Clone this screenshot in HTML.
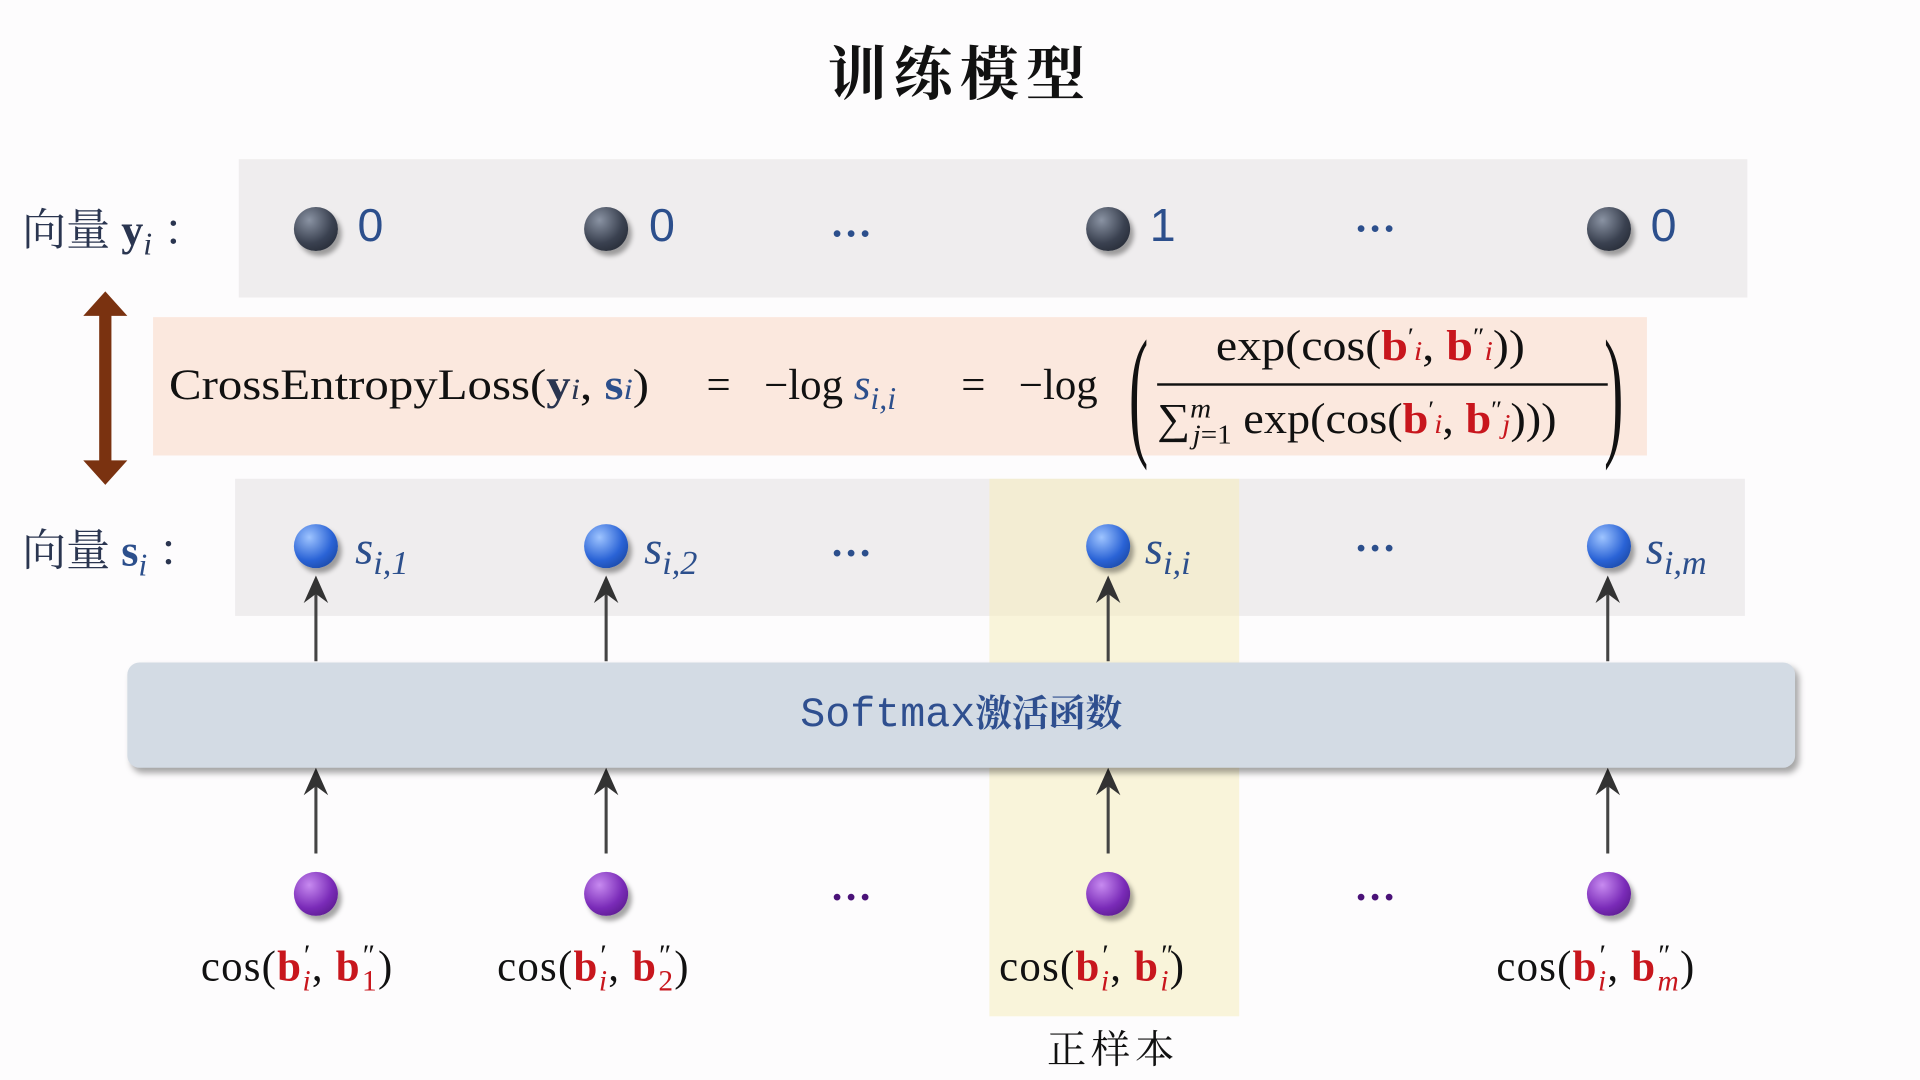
<!DOCTYPE html>
<html><head><meta charset="utf-8"><style>
html,body{margin:0;padding:0;background:#fdfcfd;overflow:hidden;width:1920px;height:1080px}
#w{position:absolute;left:0;top:0;width:1568px;height:882px;transform:scale(1.22449);transform-origin:0 0;font-family:"Liberation Serif","Noto Serif CJK SC",serif;color:#111}
.a{position:absolute;white-space:nowrap}
.band{position:absolute;background:#efedee}
.dot{position:absolute;width:36px;height:36px;border-radius:50%;box-shadow:3px 4px 4px rgba(0,0,0,.35)}
.dk{background:radial-gradient(circle at 35% 30%,#8a93a3,#3a4150 55%,#1c2029)}
.bl{background:radial-gradient(circle at 35% 30%,#9ec4ff,#2a63d6 55%,#123a8c)}
.pu{background:radial-gradient(circle at 35% 30%,#c78af0,#7a2bb8 55%,#4a1278)}
.num{font-family:"Liberation Sans",sans-serif;font-size:38px;color:#2c4f8c}
.s{font-style:italic;font-size:38px;color:#2c4f8c}
.s sub{font-size:28px}
.dots{font-size:34px;color:#2c4f8c;letter-spacing:4px;font-weight:bold}
.r{color:#c8161d;font-weight:bold}
.cos{font-size:35px;letter-spacing:1px}
.cos sub,.cos sup{font-size:24px;font-style:italic}
.f{font-size:35px;transform-origin:0 0}
</style></head><body><div id="w">
<div class="a" style="left:0;width:1568px;top:22px;text-align:center;font-size:48px;font-weight:bold;font-family:'Noto Serif CJK SC',serif;letter-spacing:6px">训练模型</div>

<div class="band" style="left:195px;top:130px;width:1232px;height:113px"></div>
<div class="a" style="left:18px;top:160px;font-size:36px;color:#2a3550">向量 <b>y</b><i style="font-size:26px;vertical-align:-8px">i</i> ：</div>
<div class="dot dk" style="left:240px;top:169px"></div><div class="a num" style="left:292px;top:164px">0</div>
<div class="dot dk" style="left:477px;top:169px"></div><div class="a num" style="left:530px;top:164px">0</div>
<div class="a dots" style="left:678px;top:164px">…</div>
<div class="dot dk" style="left:887px;top:169px"></div><div class="a num" style="left:939px;top:164px">1</div>
<div class="a dots" style="left:1106px;top:160px">…</div>
<div class="dot dk" style="left:1296px;top:169px"></div><div class="a num" style="left:1348px;top:164px">0</div>

<div class="band" style="left:125px;top:259px;width:1220px;height:113px;background:#fbe8de"></div>
<svg class="a" style="left:66px;top:236px" width="40" height="162"><polygon points="20,2 38,22 25,22 25,140 38,140 20,160 2,140 15,140 15,22 2,22" fill="#7a3210"/></svg>
<div class="a f" style="left:138px;top:295px;transform:scaleX(1.14)">CrossEntropyLoss(<b style="color:#2a3550">y</b><i style="font-size:24px;color:#2a3550">i</i>, <b style="color:#2c4f8c">s</b><i style="font-size:24px;color:#2c4f8c">i</i>)</div>
<div class="a f" style="left:577px;top:295px">=</div>
<div class="a f" style="left:624px;top:295px">−log <i style="color:#2c4f8c">s<sub style="font-size:26px">i,i</sub></i></div>
<div class="a f" style="left:785px;top:295px">=</div>
<div class="a f" style="left:832px;top:295px">−log</div>
<div class="a" style="left:922px;top:252px;font-size:118px;font-weight:100;transform:scaleX(.4);transform-origin:0 0">(</div>
<div class="a" style="left:1310px;top:252px;font-size:118px;font-weight:100;transform:scaleX(.4);transform-origin:0 0">)</div>
<div class="a f" style="left:993px;top:263px;transform:scaleX(1.12)">exp(cos(<span class="r">b</span><sup style="font-size:20px">′</sup><i style="font-size:22px;color:#c8161d">i</i>, <span class="r">b</span><sup style="font-size:20px">″</sup><i style="font-size:22px;color:#c8161d">i</i>))</div>
<div class="a" style="left:945px;top:313px;width:368px;height:2px;background:#111"></div>
<div class="a f" style="left:945px;top:321px;transform:scaleX(1.08)">∑<sup style="font-size:22px;font-style:italic">m</sup><sub style="font-size:22px;margin-left:-14px"><i>j</i>=1</sub> exp(cos(<span class="r">b</span><sup style="font-size:20px">′</sup><i style="font-size:22px;color:#c8161d">i</i>, <span class="r">b</span><sup style="font-size:20px">″</sup><i style="font-size:22px;color:#c8161d">j</i>)))</div>

<div class="band" style="left:192px;top:391px;width:1233px;height:112px"></div>
<div class="a" style="left:808px;top:391px;width:204px;height:439px;background:rgba(246,236,190,.55)"></div>
<div class="a" style="left:18px;top:422px;font-size:36px;color:#2a3550">向量 <b style="color:#2c4f8c">s</b><i style="font-size:26px;vertical-align:-8px;color:#2c4f8c">i</i> ：</div>
<div class="dot bl" style="left:240px;top:428px"></div><div class="a s" style="left:290px;top:426px">s<sub>i,1</sub></div>
<div class="dot bl" style="left:477px;top:428px"></div><div class="a s" style="left:526px;top:426px">s<sub>i,2</sub></div>
<div class="a dots" style="left:678px;top:425px">…</div>
<div class="dot bl" style="left:887px;top:428px"></div><div class="a s" style="left:935px;top:426px">s<sub>i,i</sub></div>
<div class="a dots" style="left:1106px;top:421px">…</div>
<div class="dot bl" style="left:1296px;top:428px"></div><div class="a s" style="left:1344px;top:426px">s<sub>i,m</sub></div>

<svg class="a" style="left:0;top:0" width="1568" height="882">
<defs><marker id="m" markerWidth="10" markerHeight="10" refX="5" refY="5" orient="auto"><path d="M0,1 L9,5 L0,9 L3,5 Z" fill="#333"/></marker></defs>
<g stroke="#444" stroke-width="2.5" marker-end="url(#m)">
<line x1="258" y1="540" x2="258" y2="480"/><line x1="495" y1="540" x2="495" y2="480"/><line x1="905" y1="540" x2="905" y2="480"/><line x1="1313" y1="540" x2="1313" y2="480"/>
<line x1="258" y1="697" x2="258" y2="637"/><line x1="495" y1="697" x2="495" y2="637"/><line x1="905" y1="697" x2="905" y2="637"/><line x1="1313" y1="697" x2="1313" y2="637"/>
</g></svg>

<div class="a" style="left:104px;top:541px;width:1362px;height:86px;border-radius:10px;background:#d3dbe4;box-shadow:3px 4px 5px rgba(0,0,0,.35)"></div>
<div class="a" style="left:104px;top:558px;width:1362px;text-align:center;font-size:34px;color:#2f4f8f;font-family:'Liberation Mono','Noto Serif CJK SC',monospace">Softmax<span style="font-family:'Noto Serif CJK SC',serif;font-size:30px;font-weight:bold">激活函数</span></div>

<div class="dot pu" style="left:240px;top:712px"></div>
<div class="dot pu" style="left:477px;top:712px"></div>
<div class="a dots" style="left:678px;top:706px;color:#4a1278">…</div>
<div class="dot pu" style="left:887px;top:712px"></div>
<div class="a dots" style="left:1106px;top:706px;color:#4a1278">…</div>
<div class="dot pu" style="left:1296px;top:712px"></div>

<div class="a cos" style="left:164px;top:768px">cos(<span class="r">b</span><sup>′</sup><sub style="color:#c8161d;margin-left:-6px">i</sub>, <span class="r">b</span><sup>″</sup><sub style="color:#c8161d;font-style:normal;margin-left:-10px">1</sub>)</div>
<div class="a cos" style="left:406px;top:768px">cos(<span class="r">b</span><sup>′</sup><sub style="color:#c8161d;margin-left:-6px">i</sub>, <span class="r">b</span><sup>″</sup><sub style="color:#c8161d;font-style:normal;margin-left:-10px">2</sub>)</div>
<div class="a cos" style="left:816px;top:768px">cos(<span class="r">b</span><sup>′</sup><sub style="color:#c8161d;margin-left:-6px">i</sub>, <span class="r">b</span><sup>″</sup><sub style="color:#c8161d;margin-left:-10px">i</sub>)</div>
<div class="a cos" style="left:1222px;top:768px">cos(<span class="r">b</span><sup>′</sup><sub style="color:#c8161d;margin-left:-6px">i</sub>, <span class="r">b</span><sup>″</sup><sub style="color:#c8161d;margin-left:-10px">m</sub>)</div>
<div class="a" style="left:855px;top:832px;font-size:32px;letter-spacing:4px">正样本</div>
</div></body></html>
